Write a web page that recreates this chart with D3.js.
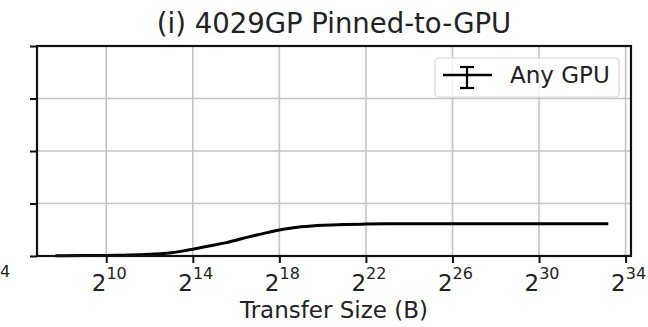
<!doctype html>
<html>
<head>
<meta charset="utf-8">
<script src="https://d3js.org/d3.v7.min.js"></script>
<style>
body { margin: 0; background: #fff; }
text { font-family: 'DejaVu Sans', sans-serif; fill: #222; }
</style>
</head>
<body>
<div id="chart"></div>
<script>
// transfer size as log2 exponent, bandwidth in GB/s
var sizeExp = [7.65, 8, 9, 10, 10.5, 11, 11.5, 12, 12.5, 13, 13.5, 14, 14.5, 15, 15.5, 16, 16.5, 17, 17.5,
               18, 18.5, 19, 19.5, 20, 21, 22, 23, 24, 26, 28, 30, 32, 33.2];
var anyGpu  = [0.12, 0.13, 0.17, 0.22, 0.27, 0.35, 0.47, 0.63, 0.88, 1.25, 1.85, 2.6, 3.4, 4.2, 5.0, 6.0, 7.1, 8.1, 9.0,
               9.9, 10.6, 11.1, 11.45, 11.7, 12.0, 12.15, 12.25, 12.3, 12.3, 12.3, 12.3, 12.3, 12.3];
var xTickExp = [10, 14, 18, 22, 26, 30, 34];
var yTicks = [0, 20, 40, 60, 80];
var title = "(i) 4029GP Pinned-to-GPU";
var xLabel = "Transfer Size (B)";
var seriesName = "Any GPU";

var width = 648, height = 327;
var pLeft = 37, pRight = 631, pTop = 46, pBottom = 256;

var svg = d3.select("#chart").append("svg")
  .attr("width", width).attr("height", height);

var x = d3.scaleLog().base(2)
  .domain([Math.pow(2, 6.8), Math.pow(2, 34.25)])
  .range([pLeft, pRight]);
var y = d3.scaleLinear().domain([0, 80]).range([pBottom, pTop]);

var pts = sizeExp.map(function(e, i){ return [Math.pow(2, e), anyGpu[i]]; });

// grid
svg.append("g").selectAll("line.gx")
  .data(xTickExp).enter().append("line")
  .attr("x1", function(d){ return x(Math.pow(2, d)); })
  .attr("x2", function(d){ return x(Math.pow(2, d)); })
  .attr("y1", pTop).attr("y2", pBottom)
  .attr("stroke", "#c4c4c4").attr("stroke-width", 1.6);
svg.append("g").selectAll("line.gy")
  .data(yTicks).enter().append("line")
  .attr("x1", pLeft).attr("x2", pRight)
  .attr("y1", function(d){ return y(d); })
  .attr("y2", function(d){ return y(d); })
  .attr("stroke", "#c4c4c4").attr("stroke-width", 1.6);

// axes
var xAxis = svg.append("g")
  .attr("transform", "translate(0," + pBottom + ")")
  .call(d3.axisBottom(x)
    .tickValues(xTickExp.map(function(e){ return Math.pow(2, e); }))
    .tickSize(7).tickFormat(""));
var yAxis = svg.append("g")
  .attr("transform", "translate(" + pLeft + ",0)")
  .call(d3.axisLeft(y).tickValues(yTicks).tickSize(7).tickFormat(""));
[xAxis, yAxis].forEach(function(a){
  a.selectAll("line").attr("stroke", "#111").attr("stroke-width", 2);
  a.select(".domain").remove();
});

// x tick labels 2^n
var lab = svg.append("g").selectAll("text.xt")
  .data(xTickExp).enter().append("text")
  .attr("x", function(d){ return x(Math.pow(2, d)) + 3; })
  .attr("y", 291)
  .attr("text-anchor", "middle")
  .style("font-size", "23px");
lab.append("tspan").text("2");
lab.append("tspan").attr("dy", -12).style("font-size", "16px")
  .text(function(d){ return d; });

// stray superscript from neighbouring panel
svg.append("text").attr("x", 0).attr("y", 277)
  .style("font-size", "16px").text("4");

// line
svg.append("path")
  .datum(pts)
  .attr("fill", "none")
  .attr("stroke", "#000")
  .attr("stroke-width", 3)
  .attr("stroke-linejoin", "round")
  .attr("d", d3.line()
    .x(function(d){ return x(d[0]); })
    .y(function(d){ return y(d[1]); })
    .curve(d3.curveMonotoneX));

// frame
svg.append("rect")
  .attr("x", pLeft).attr("y", pTop)
  .attr("width", pRight - pLeft).attr("height", pBottom - pTop)
  .attr("fill", "none").attr("stroke", "#111").attr("stroke-width", 2.2);

// legend
var lg = svg.append("g").attr("transform", "translate(435,58)");
lg.append("rect").attr("width", 184).attr("height", 39).attr("rx", 4)
  .attr("fill", "#fff").attr("fill-opacity", 0.8)
  .attr("stroke", "#d6d6d6").attr("stroke-width", 1.2);
lg.append("line").attr("x1", 8).attr("x2", 57).attr("y1", 17).attr("y2", 17)
  .attr("stroke", "#000").attr("stroke-width", 2.6);
lg.append("line").attr("x1", 32).attr("x2", 32).attr("y1", 9).attr("y2", 30)
  .attr("stroke", "#000").attr("stroke-width", 2.2);
[9, 30].forEach(function(cy){
  lg.append("line").attr("x1", 25).attr("x2", 39).attr("y1", cy).attr("y2", cy)
    .attr("stroke", "#000").attr("stroke-width", 2.2);
});
lg.append("text").attr("x", 75).attr("y", 25)
  .style("font-size", "23px").text(seriesName);

// title and axis label
svg.append("text").attr("x", (pLeft + pRight) / 2).attr("y", 33)
  .attr("text-anchor", "middle").style("font-size", "27.5px").text(title);
svg.append("text").attr("x", (pLeft + pRight) / 2).attr("y", 318)
  .attr("text-anchor", "middle").style("font-size", "23px").text(xLabel);
</script>
</body>
</html>
